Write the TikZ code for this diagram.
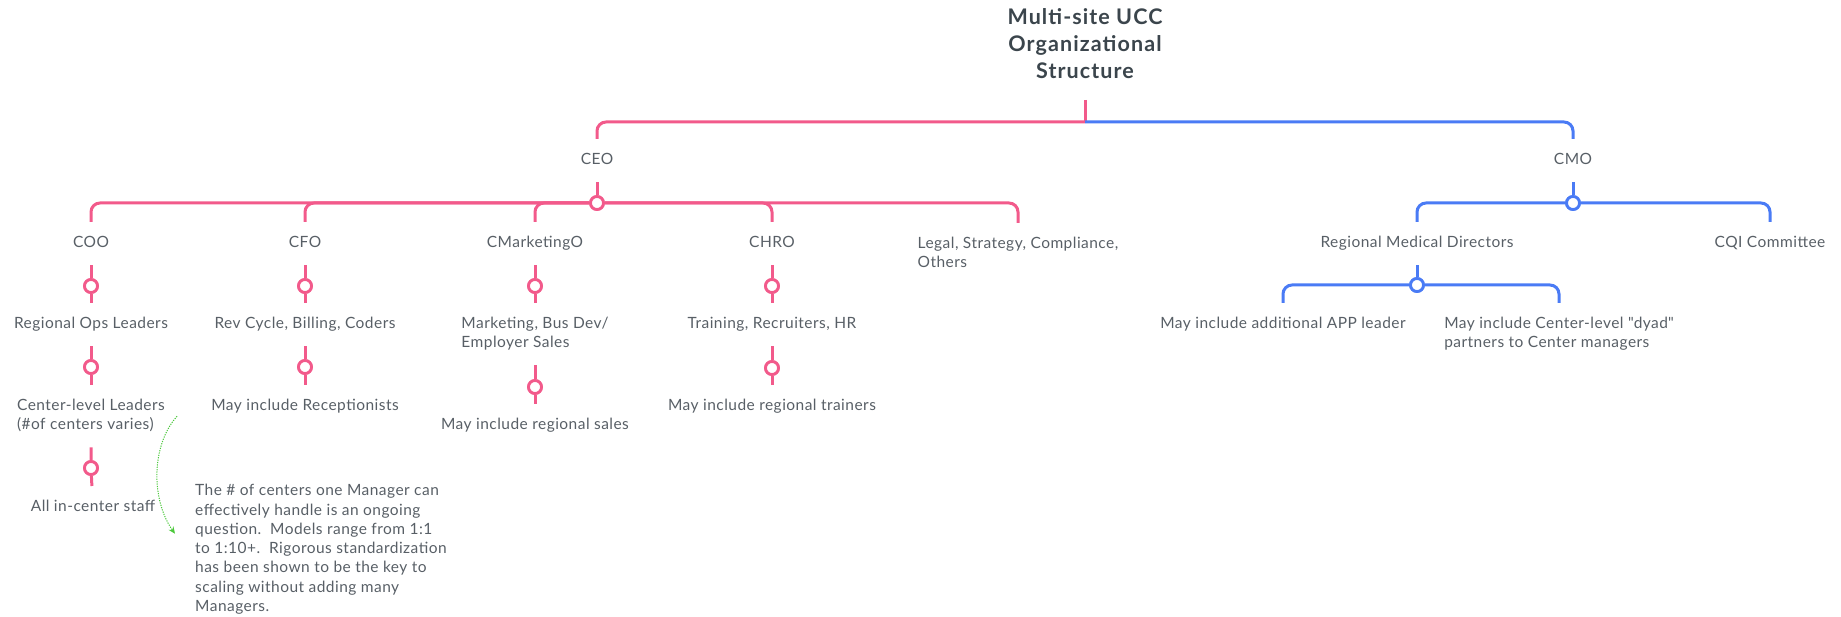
\documentclass[tikz,border=0pt]{standalone}
\usepackage{fontspec}
\setmainfont{Lato}
\newfontfamily\lfont[LetterSpace=3]{Lato}
\newfontfamily\tfont[LetterSpace=5]{Lato}
\usetikzlibrary{arrows.meta}
\definecolor{pk}{HTML}{F25A8B}
\definecolor{bl}{HTML}{4A7BF5}
\definecolor{gr}{HTML}{4CC83C}
\definecolor{tx}{HTML}{585F66}
\definecolor{tt}{HTML}{3B454C}
\begin{document}
\begin{tikzpicture}[x=1pt,y=-1pt,
 lbl/.style={font=\lfont\fontsize{15.5}{19}\selectfont, text=tx, inner xsep=2, inner ysep=12, align=center, anchor=north},
 lbll/.style={lbl, align=left},
 pline/.style={draw=pk, line width=3, rounded corners=9},
 bline/.style={draw=bl, line width=3, rounded corners=9},
 pj/.style={circle, draw=pk, line width=2.8, fill=white, minimum size=13, inner sep=0},
 bj/.style={pj, draw=bl},
]
\useasboundingbox (0,0) rectangle (1841,617);

% title
\node[font=\tfont\bfseries\fontsize{21.5}{27}\selectfont, text=tt, align=center, anchor=south, inner ysep=13] (title) at (1085,100) {\strut Multi-site UCC\\Organizational\\Structure\strut};
\coordinate (tJ) at (1085,122);

% level 1
\node[lbl] (ceo) at (597,139) {\strut CEO\strut};
\node[lbl] (cmo) at (1573,139) {\strut CMO\strut};

% junctions
\node[pj] (ceoJ) at (597,203) {};
\node[bj] (cmoJ) at (1573,203) {};

% level 2
\node[lbl] (coo) at (91,222) {\strut COO\strut};
\node[lbl] (cfo) at (305,222) {\strut CFO\strut};
\node[lbl] (cmk) at (535,222) {\strut CMarketingO\strut};
\node[lbl] (chro) at (772,222) {\strut CHRO\strut};
\node[lbll] (legal) at (1018,223) {\strut Legal, Strategy, Compliance,\\Others\strut};
\node[lbl] (rmd) at (1417,222) {\strut Regional Medical Directors\strut};
\node[lbl] (cqi) at (1770,222) {\strut CQI Committee\strut};

\node[bj] (rmdJ) at (1417,285) {};

% chains
\node[pj] (coo1) at (91,286) {};
\node[lbl] (rol) at (91,303) {\strut Regional Ops Leaders\strut};
\node[pj] (coo2) at (91,367) {};
\node[lbll] (cll) at (91,385) {\strut Center-level Leaders\\(\#of centers varies)\strut};
\node[pj] (coo3) at (91,468) {};
\node[lbl] (ics) at (93,486) {\strut All in-center staff\strut};

\node[pj] (cfo1) at (305,286) {};
\node[lbl] (rev) at (305,303) {\strut Rev Cycle, Billing, Coders\strut};
\node[pj] (cfo2) at (305,367) {};
\node[lbl] (rec) at (305,385) {\strut May include Receptionists\strut};

\node[pj] (cmk1) at (535,286) {};
\node[lbll] (mkt) at (535,303) {\strut Marketing, Bus Dev/\\Employer Sales\strut};
\node[pj] (cmk2) at (535,387) {};
\node[lbl] (rsl) at (535,404) {\strut May include regional sales\strut};

\node[pj] (chr1) at (772,286) {};
\node[lbl] (trn) at (772,303) {\strut Training, Recruiters, HR\strut};
\node[pj] (chr2) at (772,368) {};
\node[lbl] (rtr) at (772,385) {\strut May include regional trainers\strut};

\node[lbl] (app) at (1283,303) {\strut May include additional APP leader\strut};
\node[lbll] (dyad) at (1559,303) {\strut May include Center-level \textquotedbl dyad\textquotedbl\\partners to Center managers\strut};

% note
\node[font=\lfont\fontsize{15.5}{19.3}\selectfont, text=tx, align=left, anchor=north west, inner sep=0] (note) at (195,482)
 {\strut The \# of centers one Manager can\\effectively handle is an ongoing\\question.\ \ Models range from 1:1\\to 1:10+.\ \ Rigorous standardization\\has been shown to be the key to\\scaling without adding many\\Managers.\strut};

% connectors
\draw[pline] (title.south) -- (tJ);
\draw[pline] (tJ) -| (ceo.north);
\draw[bline] (tJ) -| (cmo.north);
\draw[pline] (ceo) -- (ceoJ);
\draw[bline] (cmo) -- (cmoJ);
\foreach \c in {coo,cfo,cmk,chro,legal} \draw[pline] (ceoJ) -| (\c.north);
\draw[bline] (cmoJ) -| (rmd.north);
\draw[bline] (cmoJ) -| (cqi.north);
\draw[bline] (rmd) -- (rmdJ);
\draw[bline] (rmdJ) -| (app.north);
\draw[bline] (rmdJ) -| (dyad.north);

\draw[pline] (coo) -- (coo1) -- (rol);
\draw[pline] (rol) -- (coo2) -- (cll);
\draw[pline] (cll) -- (coo3) -- (ics);
\draw[pline] (cfo) -- (cfo1) -- (rev);
\draw[pline] (rev) -- (cfo2) -- (rec);
\draw[pline] (cmk) -- (cmk1) -- (mkt);
\draw[pline] (mkt) -- (cmk2) -- (rsl);
\draw[pline] (chro) -- (chr1) -- (trn);
\draw[pline] (trn) -- (chr2) -- (rtr);

% redraw junctions on top
\foreach \j in {ceoJ,coo1,coo2,coo3,cfo1,cfo2,cmk1,cmk2,chr1,chr2}
  \draw[pk, line width=2.8, fill=white] (\j) circle (6.5);
\foreach \j in {cmoJ,rmdJ}
  \draw[bl, line width=2.8, fill=white] (\j) circle (6.5);

% green note arrow
\draw[gr, line width=1, dash pattern=on 1.2pt off 1.2pt, -{Stealth[length=7,width=6]}]
  ([xshift=10]cll.east) .. controls (151,445) and (151,500) .. ([shift={(-20,-16)}]note.west);
\end{tikzpicture}
\end{document}
